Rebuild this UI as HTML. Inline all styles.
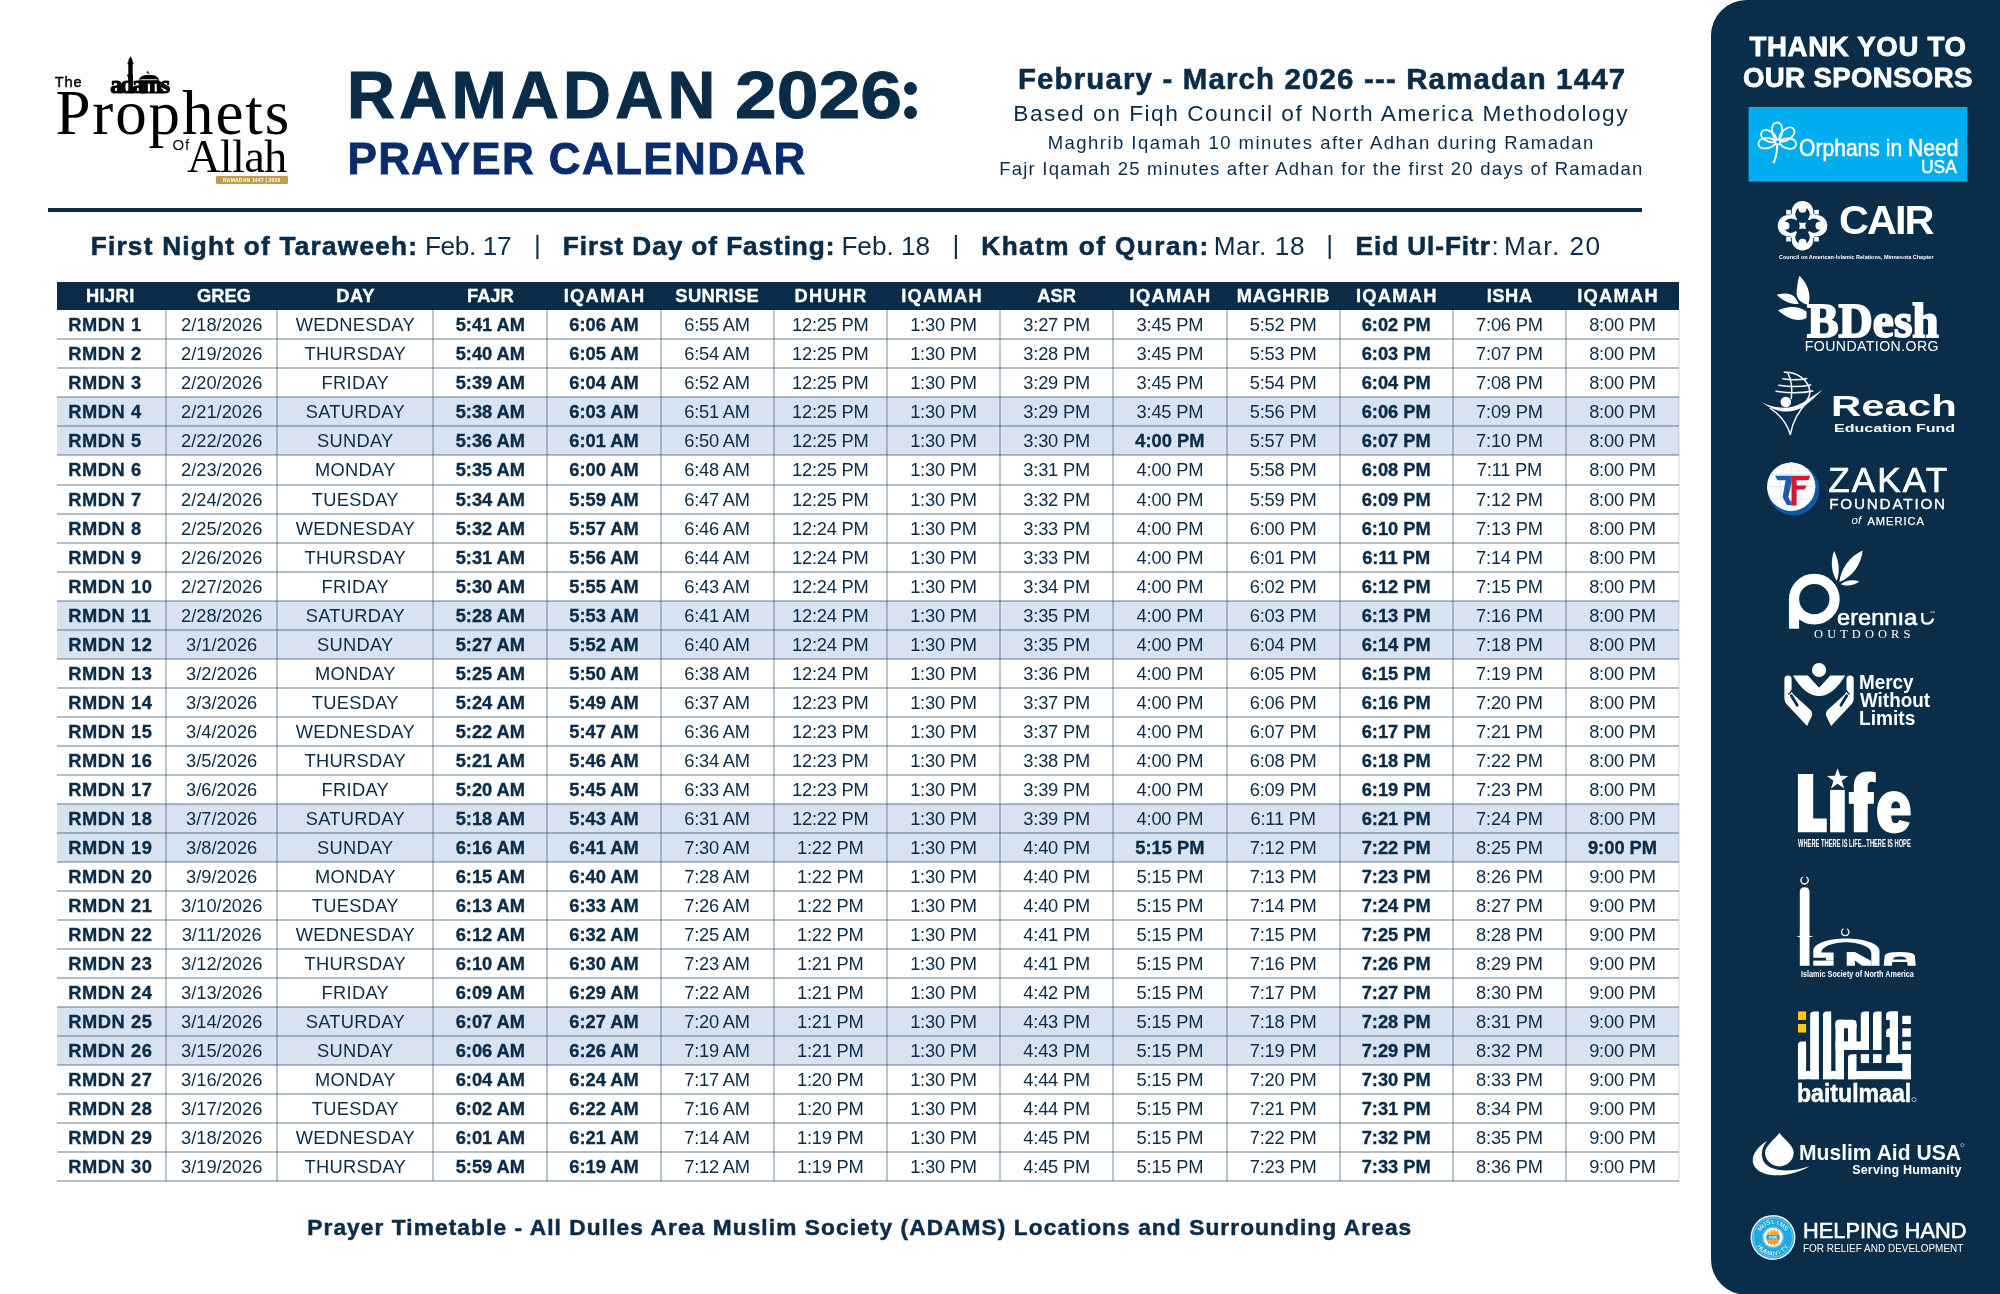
<!DOCTYPE html>
<html lang="en"><head><meta charset="utf-8"><title>Ramadan 2026 Prayer Calendar</title>
<style>
*{margin:0;padding:0;box-sizing:border-box;}
html,body{width:2000px;height:1294px;background:#fff;overflow:hidden;}
body{position:relative;font-family:"Liberation Sans",sans-serif;color:#0a2c49;}
.abs{position:absolute;white-space:nowrap;}
.hr{left:48px;top:208px;width:1594px;height:4px;background:#0a2c49;}
/* table */
.tbl{position:absolute;left:57px;top:282.2px;width:1622px;height:899px;}
.th{position:absolute;left:0;top:0;width:1622px;height:28.2px;background:#0a2c49;}
.th span{position:absolute;top:0;height:28px;line-height:28px;text-align:center;color:#fff;font-weight:bold;font-size:18.3px;-webkit-text-stroke:.35px #fff;}
.row{position:absolute;left:0;width:1622px;height:29.02px;}
.row.hl{background:#d9e2f0;}
.row span{position:absolute;top:0;height:29px;line-height:29px;text-align:center;font-size:18.3px;white-space:nowrap;}
.row span.b{font-weight:bold;-webkit-text-stroke:.35px #0a2c49;}
.row span.h{text-align:left;font-weight:bold;letter-spacing:.55px;-webkit-text-stroke:.35px #0a2c49;padding-left:11.3px;}
.vl{position:absolute;top:28.2px;width:2px;height:870.6px;background:rgba(30,65,95,.30);}
.hl2{position:absolute;left:0;width:1622px;height:2px;background:rgba(30,65,95,.34);}
/* sidebar */
.side{position:absolute;left:1711px;top:-0.5px;width:289px;height:1295px;background:#0a2d4a;border-radius:35.5px 0 0 35.5px;}
#wrap{position:absolute;left:0;top:0;width:2000px;height:1294px;will-change:transform;}
</style></head>
<body>
<div id="wrap">
<div class="abs" style="left:347.05px;top:61.78px;font-size:66.3px;line-height:66.3px;letter-spacing:4.298px;font-weight:bold;-webkit-text-stroke:1.1px currentColor;">RAMADAN</div>
<div class="abs" style="left:735.10px;top:61.78px;font-size:66.3px;line-height:66.3px;transform:scaleX(1.1313);transform-origin:0 0;font-weight:bold;-webkit-text-stroke:1px currentColor;">2026</div>
<div class="abs" style="left:347.40px;top:137.25px;font-size:44px;line-height:44px;letter-spacing:1.396px;font-weight:bold;color:#0a2c6a;-webkit-text-stroke:0.8px #0a2c6a;">PRAYER CALENDAR</div>
<div class="abs" style="left:1017.90px;top:64.31px;font-size:29.4px;line-height:29.4px;letter-spacing:1.178px;font-weight:bold;-webkit-text-stroke:0.6px currentColor;">February - March 2026 --- Ramadan 1447</div>
<div class="abs" style="left:1013.30px;top:102.48px;font-size:22.7px;line-height:22.7px;letter-spacing:1.521px;">Based on Fiqh Council of North America Methodology</div>
<div class="abs" style="left:1047.70px;top:133.94px;font-size:18.5px;line-height:18.5px;letter-spacing:1.462px;">Maghrib Iqamah 10 minutes after Adhan during Ramadan</div>
<div class="abs" style="left:999.20px;top:159.94px;font-size:18.5px;line-height:18.5px;letter-spacing:1.221px;">Fajr Iqamah 25 minutes after Adhan for the first 20 days of Ramadan</div>
<div class="abs" style="left:90.70px;top:232.82px;font-size:26.2px;line-height:26.2px;letter-spacing:1.241px;font-weight:bold;-webkit-text-stroke:0.6px currentColor;">First Night of Taraweeh:</div>
<div class="abs" style="left:425.00px;top:232.82px;font-size:26.2px;line-height:26.2px;letter-spacing:-0.373px;">Feb. 17</div>
<div class="abs" style="left:534.00px;top:231.82px;font-size:26.2px;line-height:26.2px;letter-spacing:0.000px;">|</div>
<div class="abs" style="left:562.80px;top:232.82px;font-size:26.2px;line-height:26.2px;letter-spacing:0.923px;font-weight:bold;-webkit-text-stroke:0.6px currentColor;">First Day of Fasting:</div>
<div class="abs" style="left:841.40px;top:232.82px;font-size:26.2px;line-height:26.2px;letter-spacing:-0.023px;">Feb. 18</div>
<div class="abs" style="left:952.60px;top:231.82px;font-size:26.2px;line-height:26.2px;letter-spacing:0.000px;">|</div>
<div class="abs" style="left:981.30px;top:232.82px;font-size:26.2px;line-height:26.2px;letter-spacing:1.445px;font-weight:bold;-webkit-text-stroke:0.6px currentColor;">Khatm of Quran:</div>
<div class="abs" style="left:1213.70px;top:232.82px;font-size:26.2px;line-height:26.2px;letter-spacing:0.572px;">Mar. 18</div>
<div class="abs" style="left:1326.30px;top:231.82px;font-size:26.2px;line-height:26.2px;letter-spacing:0.000px;">|</div>
<div class="abs" style="left:1355.60px;top:232.82px;font-size:26.2px;line-height:26.2px;letter-spacing:0.918px;font-weight:bold;-webkit-text-stroke:0.6px currentColor;">Eid Ul-Fitr</div>
<div class="abs" style="left:1491.50px;top:232.82px;font-size:26.2px;line-height:26.2px;letter-spacing:0.000px;">:</div>
<div class="abs" style="left:1504.00px;top:232.82px;font-size:26.2px;line-height:26.2px;letter-spacing:1.455px;">Mar. 20</div>
<div class="abs" style="left:307.25px;top:1215.98px;font-size:22.7px;line-height:22.7px;letter-spacing:1.089px;font-weight:bold;-webkit-text-stroke:0.5px currentColor;">Prayer Timetable - All Dulles Area Muslim Society (ADAMS) Locations and Surrounding Areas</div>
<div class="abs hr"></div>
<div class="abs" style="left:903.8px;top:81.8px;width:13px;height:13px;border-radius:50%;background:#0a2c49"></div>
<div class="abs" style="left:903.8px;top:105.7px;width:13px;height:13px;border-radius:50%;background:#0a2c49"></div>
<div class="abs" style="left:54.83px;top:74.54px;font-size:14.6px;line-height:14.6px;letter-spacing:0.760px;color:#000;-webkit-text-stroke:0.45px #000;">The</div>
<div class="abs" style="left:55.40px;top:82.14px;font-size:63px;line-height:63px;letter-spacing:1.902px;color:#000;font-family:'Liberation Serif',serif;">Prophets</div>
<div class="abs" style="left:172.50px;top:136.90px;font-size:15px;line-height:15px;letter-spacing:0.833px;color:#000;">Of</div>
<div class="abs" style="left:187.00px;top:133.64px;font-size:46.4px;line-height:46.4px;letter-spacing:-0.717px;color:#000;font-family:'Liberation Serif',serif;">Allah</div>
<div class="abs" style="left:110.20px;top:72.88px;font-size:24.5px;line-height:24.5px;letter-spacing:-2.084px;font-weight:bold;color:#000;-webkit-text-stroke:1.2px #000;font-family:'Liberation Serif',serif;">adams</div>
<svg class="abs" style="left:100px;top:50px" width="80" height="40" viewBox="100 50 80 40">
<path d="M130.5 56.2 L132.6 60 L132.6 62.2 L133.4 62.2 L133.4 64.2 L132.7 64.2 L132.7 83 L128.3 83 L128.3 64.2 L127.6 64.2 L127.6 62.2 L128.4 62.2 L128.4 60 Z" fill="#000"/>
<path d="M139.2 83.5 L139.2 80.5 C139.2 76.8 142 74.9 149 74.9 C156 74.9 158.8 76.8 158.8 80.5 L158.8 83.5 Z" fill="#000"/>
<rect x="140.6" y="79.3" width="16.8" height="0.9" fill="#fff"/>
<circle cx="148.4" cy="72.2" r="1.5" fill="#000"/><circle cx="149.3" cy="71.7" r="1.2" fill="#fff"/>
</svg>
<div class="abs" style="left:215.5px;top:175.7px;width:72.6px;height:8.6px;background:#c49a4e;border-radius:1.3px;"></div>
<div class="abs" style="left:215.5px;top:175.7px;width:72.6px;height:8.6px;line-height:8.6px;text-align:center;color:#fff;font-size:5px;font-weight:bold;letter-spacing:.2px;">RAMADAN 1447 | 2026</div>

<div class="tbl">
<div class="th">
<span style="left:-1.2px;width:109px;letter-spacing:0.4px">HIJRI</span>
<span style="left:111.4px;width:111.3px;letter-spacing:0px">GREG</span>
<span style="left:220.65px;width:156px;letter-spacing:0.7px">DAY</span>
<span style="left:376.3px;width:114.1px;letter-spacing:0px">FAJR</span>
<span style="left:491.05px;width:113.1px;letter-spacing:1.3px">IQAMAH</span>
<span style="left:603.67px;width:113.1px;letter-spacing:0.35px">SUNRISE</span>
<span style="left:717.3px;width:113.4px;letter-spacing:1.4px">DHUHR</span>
<span style="left:828.65px;width:113px;letter-spacing:1.3px">IQAMAH</span>
<span style="left:943px;width:113.3px;letter-spacing:0px">ASR</span>
<span style="left:1056.95px;width:113.2px;letter-spacing:1.3px">IQAMAH</span>
<span style="left:1169.95px;width:113.2px;letter-spacing:0.9px">MAGHRIB</span>
<span style="left:1283.35px;width:113.1px;letter-spacing:1.3px">IQAMAH</span>
<span style="left:1396.1px;width:113.2px;letter-spacing:0.6px">ISHA</span>
<span style="left:1504.65px;width:113px;letter-spacing:1.3px">IQAMAH</span>
</div>
<div class="row" style="top:28.2px">
<span class="h" style="left:0px;width:109px">RMDN 1</span>
<span style="left:109px;width:111.3px">2/18/2026</span>
<span style="left:220.3px;width:156px;letter-spacing:.3px">WEDNESDAY</span>
<span class="b" style="left:376.3px;width:114.1px">5:41 AM</span>
<span class="b" style="left:490.4px;width:113.1px">6:06 AM</span>
<span style="left:603.5px;width:113.1px;letter-spacing:-.2px">6:55 AM</span>
<span style="left:716.6px;width:113.4px;letter-spacing:-.2px">12:25 PM</span>
<span style="left:830px;width:113px;letter-spacing:-.2px">1:30 PM</span>
<span style="left:943px;width:113.3px;letter-spacing:-.2px">3:27 PM</span>
<span style="left:1056.3px;width:113.2px;letter-spacing:-.2px">3:45 PM</span>
<span style="left:1169.5px;width:113.2px;letter-spacing:-.2px">5:52 PM</span>
<span class="b" style="left:1282.7px;width:113.1px">6:02 PM</span>
<span style="left:1395.8px;width:113.2px;letter-spacing:-.2px">7:06 PM</span>
<span style="left:1509px;width:113px;letter-spacing:-.2px">8:00 PM</span>
</div>
<div class="row" style="top:57.22px">
<span class="h" style="left:0px;width:109px">RMDN 2</span>
<span style="left:109px;width:111.3px">2/19/2026</span>
<span style="left:220.3px;width:156px;letter-spacing:.3px">THURSDAY</span>
<span class="b" style="left:376.3px;width:114.1px">5:40 AM</span>
<span class="b" style="left:490.4px;width:113.1px">6:05 AM</span>
<span style="left:603.5px;width:113.1px;letter-spacing:-.2px">6:54 AM</span>
<span style="left:716.6px;width:113.4px;letter-spacing:-.2px">12:25 PM</span>
<span style="left:830px;width:113px;letter-spacing:-.2px">1:30 PM</span>
<span style="left:943px;width:113.3px;letter-spacing:-.2px">3:28 PM</span>
<span style="left:1056.3px;width:113.2px;letter-spacing:-.2px">3:45 PM</span>
<span style="left:1169.5px;width:113.2px;letter-spacing:-.2px">5:53 PM</span>
<span class="b" style="left:1282.7px;width:113.1px">6:03 PM</span>
<span style="left:1395.8px;width:113.2px;letter-spacing:-.2px">7:07 PM</span>
<span style="left:1509px;width:113px;letter-spacing:-.2px">8:00 PM</span>
</div>
<div class="row" style="top:86.24px">
<span class="h" style="left:0px;width:109px">RMDN 3</span>
<span style="left:109px;width:111.3px">2/20/2026</span>
<span style="left:220.3px;width:156px;letter-spacing:.3px">FRIDAY</span>
<span class="b" style="left:376.3px;width:114.1px">5:39 AM</span>
<span class="b" style="left:490.4px;width:113.1px">6:04 AM</span>
<span style="left:603.5px;width:113.1px;letter-spacing:-.2px">6:52 AM</span>
<span style="left:716.6px;width:113.4px;letter-spacing:-.2px">12:25 PM</span>
<span style="left:830px;width:113px;letter-spacing:-.2px">1:30 PM</span>
<span style="left:943px;width:113.3px;letter-spacing:-.2px">3:29 PM</span>
<span style="left:1056.3px;width:113.2px;letter-spacing:-.2px">3:45 PM</span>
<span style="left:1169.5px;width:113.2px;letter-spacing:-.2px">5:54 PM</span>
<span class="b" style="left:1282.7px;width:113.1px">6:04 PM</span>
<span style="left:1395.8px;width:113.2px;letter-spacing:-.2px">7:08 PM</span>
<span style="left:1509px;width:113px;letter-spacing:-.2px">8:00 PM</span>
</div>
<div class="row hl" style="top:115.26px">
<span class="h" style="left:0px;width:109px">RMDN 4</span>
<span style="left:109px;width:111.3px">2/21/2026</span>
<span style="left:220.3px;width:156px;letter-spacing:.3px">SATURDAY</span>
<span class="b" style="left:376.3px;width:114.1px">5:38 AM</span>
<span class="b" style="left:490.4px;width:113.1px">6:03 AM</span>
<span style="left:603.5px;width:113.1px;letter-spacing:-.2px">6:51 AM</span>
<span style="left:716.6px;width:113.4px;letter-spacing:-.2px">12:25 PM</span>
<span style="left:830px;width:113px;letter-spacing:-.2px">1:30 PM</span>
<span style="left:943px;width:113.3px;letter-spacing:-.2px">3:29 PM</span>
<span style="left:1056.3px;width:113.2px;letter-spacing:-.2px">3:45 PM</span>
<span style="left:1169.5px;width:113.2px;letter-spacing:-.2px">5:56 PM</span>
<span class="b" style="left:1282.7px;width:113.1px">6:06 PM</span>
<span style="left:1395.8px;width:113.2px;letter-spacing:-.2px">7:09 PM</span>
<span style="left:1509px;width:113px;letter-spacing:-.2px">8:00 PM</span>
</div>
<div class="row hl" style="top:144.28px">
<span class="h" style="left:0px;width:109px">RMDN 5</span>
<span style="left:109px;width:111.3px">2/22/2026</span>
<span style="left:220.3px;width:156px;letter-spacing:.3px">SUNDAY</span>
<span class="b" style="left:376.3px;width:114.1px">5:36 AM</span>
<span class="b" style="left:490.4px;width:113.1px">6:01 AM</span>
<span style="left:603.5px;width:113.1px;letter-spacing:-.2px">6:50 AM</span>
<span style="left:716.6px;width:113.4px;letter-spacing:-.2px">12:25 PM</span>
<span style="left:830px;width:113px;letter-spacing:-.2px">1:30 PM</span>
<span style="left:943px;width:113.3px;letter-spacing:-.2px">3:30 PM</span>
<span class="b" style="left:1056.3px;width:113.2px">4:00 PM</span>
<span style="left:1169.5px;width:113.2px;letter-spacing:-.2px">5:57 PM</span>
<span class="b" style="left:1282.7px;width:113.1px">6:07 PM</span>
<span style="left:1395.8px;width:113.2px;letter-spacing:-.2px">7:10 PM</span>
<span style="left:1509px;width:113px;letter-spacing:-.2px">8:00 PM</span>
</div>
<div class="row" style="top:173.3px">
<span class="h" style="left:0px;width:109px">RMDN 6</span>
<span style="left:109px;width:111.3px">2/23/2026</span>
<span style="left:220.3px;width:156px;letter-spacing:.3px">MONDAY</span>
<span class="b" style="left:376.3px;width:114.1px">5:35 AM</span>
<span class="b" style="left:490.4px;width:113.1px">6:00 AM</span>
<span style="left:603.5px;width:113.1px;letter-spacing:-.2px">6:48 AM</span>
<span style="left:716.6px;width:113.4px;letter-spacing:-.2px">12:25 PM</span>
<span style="left:830px;width:113px;letter-spacing:-.2px">1:30 PM</span>
<span style="left:943px;width:113.3px;letter-spacing:-.2px">3:31 PM</span>
<span style="left:1056.3px;width:113.2px;letter-spacing:-.2px">4:00 PM</span>
<span style="left:1169.5px;width:113.2px;letter-spacing:-.2px">5:58 PM</span>
<span class="b" style="left:1282.7px;width:113.1px">6:08 PM</span>
<span style="left:1395.8px;width:113.2px;letter-spacing:-.2px">7:11 PM</span>
<span style="left:1509px;width:113px;letter-spacing:-.2px">8:00 PM</span>
</div>
<div class="row" style="top:202.32px">
<span class="h" style="left:0px;width:109px">RMDN 7</span>
<span style="left:109px;width:111.3px">2/24/2026</span>
<span style="left:220.3px;width:156px;letter-spacing:.3px">TUESDAY</span>
<span class="b" style="left:376.3px;width:114.1px">5:34 AM</span>
<span class="b" style="left:490.4px;width:113.1px">5:59 AM</span>
<span style="left:603.5px;width:113.1px;letter-spacing:-.2px">6:47 AM</span>
<span style="left:716.6px;width:113.4px;letter-spacing:-.2px">12:25 PM</span>
<span style="left:830px;width:113px;letter-spacing:-.2px">1:30 PM</span>
<span style="left:943px;width:113.3px;letter-spacing:-.2px">3:32 PM</span>
<span style="left:1056.3px;width:113.2px;letter-spacing:-.2px">4:00 PM</span>
<span style="left:1169.5px;width:113.2px;letter-spacing:-.2px">5:59 PM</span>
<span class="b" style="left:1282.7px;width:113.1px">6:09 PM</span>
<span style="left:1395.8px;width:113.2px;letter-spacing:-.2px">7:12 PM</span>
<span style="left:1509px;width:113px;letter-spacing:-.2px">8:00 PM</span>
</div>
<div class="row" style="top:231.34px">
<span class="h" style="left:0px;width:109px">RMDN 8</span>
<span style="left:109px;width:111.3px">2/25/2026</span>
<span style="left:220.3px;width:156px;letter-spacing:.3px">WEDNESDAY</span>
<span class="b" style="left:376.3px;width:114.1px">5:32 AM</span>
<span class="b" style="left:490.4px;width:113.1px">5:57 AM</span>
<span style="left:603.5px;width:113.1px;letter-spacing:-.2px">6:46 AM</span>
<span style="left:716.6px;width:113.4px;letter-spacing:-.2px">12:24 PM</span>
<span style="left:830px;width:113px;letter-spacing:-.2px">1:30 PM</span>
<span style="left:943px;width:113.3px;letter-spacing:-.2px">3:33 PM</span>
<span style="left:1056.3px;width:113.2px;letter-spacing:-.2px">4:00 PM</span>
<span style="left:1169.5px;width:113.2px;letter-spacing:-.2px">6:00 PM</span>
<span class="b" style="left:1282.7px;width:113.1px">6:10 PM</span>
<span style="left:1395.8px;width:113.2px;letter-spacing:-.2px">7:13 PM</span>
<span style="left:1509px;width:113px;letter-spacing:-.2px">8:00 PM</span>
</div>
<div class="row" style="top:260.36px">
<span class="h" style="left:0px;width:109px">RMDN 9</span>
<span style="left:109px;width:111.3px">2/26/2026</span>
<span style="left:220.3px;width:156px;letter-spacing:.3px">THURSDAY</span>
<span class="b" style="left:376.3px;width:114.1px">5:31 AM</span>
<span class="b" style="left:490.4px;width:113.1px">5:56 AM</span>
<span style="left:603.5px;width:113.1px;letter-spacing:-.2px">6:44 AM</span>
<span style="left:716.6px;width:113.4px;letter-spacing:-.2px">12:24 PM</span>
<span style="left:830px;width:113px;letter-spacing:-.2px">1:30 PM</span>
<span style="left:943px;width:113.3px;letter-spacing:-.2px">3:33 PM</span>
<span style="left:1056.3px;width:113.2px;letter-spacing:-.2px">4:00 PM</span>
<span style="left:1169.5px;width:113.2px;letter-spacing:-.2px">6:01 PM</span>
<span class="b" style="left:1282.7px;width:113.1px">6:11 PM</span>
<span style="left:1395.8px;width:113.2px;letter-spacing:-.2px">7:14 PM</span>
<span style="left:1509px;width:113px;letter-spacing:-.2px">8:00 PM</span>
</div>
<div class="row" style="top:289.38px">
<span class="h" style="left:0px;width:109px">RMDN 10</span>
<span style="left:109px;width:111.3px">2/27/2026</span>
<span style="left:220.3px;width:156px;letter-spacing:.3px">FRIDAY</span>
<span class="b" style="left:376.3px;width:114.1px">5:30 AM</span>
<span class="b" style="left:490.4px;width:113.1px">5:55 AM</span>
<span style="left:603.5px;width:113.1px;letter-spacing:-.2px">6:43 AM</span>
<span style="left:716.6px;width:113.4px;letter-spacing:-.2px">12:24 PM</span>
<span style="left:830px;width:113px;letter-spacing:-.2px">1:30 PM</span>
<span style="left:943px;width:113.3px;letter-spacing:-.2px">3:34 PM</span>
<span style="left:1056.3px;width:113.2px;letter-spacing:-.2px">4:00 PM</span>
<span style="left:1169.5px;width:113.2px;letter-spacing:-.2px">6:02 PM</span>
<span class="b" style="left:1282.7px;width:113.1px">6:12 PM</span>
<span style="left:1395.8px;width:113.2px;letter-spacing:-.2px">7:15 PM</span>
<span style="left:1509px;width:113px;letter-spacing:-.2px">8:00 PM</span>
</div>
<div class="row hl" style="top:318.4px">
<span class="h" style="left:0px;width:109px">RMDN 11</span>
<span style="left:109px;width:111.3px">2/28/2026</span>
<span style="left:220.3px;width:156px;letter-spacing:.3px">SATURDAY</span>
<span class="b" style="left:376.3px;width:114.1px">5:28 AM</span>
<span class="b" style="left:490.4px;width:113.1px">5:53 AM</span>
<span style="left:603.5px;width:113.1px;letter-spacing:-.2px">6:41 AM</span>
<span style="left:716.6px;width:113.4px;letter-spacing:-.2px">12:24 PM</span>
<span style="left:830px;width:113px;letter-spacing:-.2px">1:30 PM</span>
<span style="left:943px;width:113.3px;letter-spacing:-.2px">3:35 PM</span>
<span style="left:1056.3px;width:113.2px;letter-spacing:-.2px">4:00 PM</span>
<span style="left:1169.5px;width:113.2px;letter-spacing:-.2px">6:03 PM</span>
<span class="b" style="left:1282.7px;width:113.1px">6:13 PM</span>
<span style="left:1395.8px;width:113.2px;letter-spacing:-.2px">7:16 PM</span>
<span style="left:1509px;width:113px;letter-spacing:-.2px">8:00 PM</span>
</div>
<div class="row hl" style="top:347.42px">
<span class="h" style="left:0px;width:109px">RMDN 12</span>
<span style="left:109px;width:111.3px">3/1/2026</span>
<span style="left:220.3px;width:156px;letter-spacing:.3px">SUNDAY</span>
<span class="b" style="left:376.3px;width:114.1px">5:27 AM</span>
<span class="b" style="left:490.4px;width:113.1px">5:52 AM</span>
<span style="left:603.5px;width:113.1px;letter-spacing:-.2px">6:40 AM</span>
<span style="left:716.6px;width:113.4px;letter-spacing:-.2px">12:24 PM</span>
<span style="left:830px;width:113px;letter-spacing:-.2px">1:30 PM</span>
<span style="left:943px;width:113.3px;letter-spacing:-.2px">3:35 PM</span>
<span style="left:1056.3px;width:113.2px;letter-spacing:-.2px">4:00 PM</span>
<span style="left:1169.5px;width:113.2px;letter-spacing:-.2px">6:04 PM</span>
<span class="b" style="left:1282.7px;width:113.1px">6:14 PM</span>
<span style="left:1395.8px;width:113.2px;letter-spacing:-.2px">7:18 PM</span>
<span style="left:1509px;width:113px;letter-spacing:-.2px">8:00 PM</span>
</div>
<div class="row" style="top:376.44px">
<span class="h" style="left:0px;width:109px">RMDN 13</span>
<span style="left:109px;width:111.3px">3/2/2026</span>
<span style="left:220.3px;width:156px;letter-spacing:.3px">MONDAY</span>
<span class="b" style="left:376.3px;width:114.1px">5:25 AM</span>
<span class="b" style="left:490.4px;width:113.1px">5:50 AM</span>
<span style="left:603.5px;width:113.1px;letter-spacing:-.2px">6:38 AM</span>
<span style="left:716.6px;width:113.4px;letter-spacing:-.2px">12:24 PM</span>
<span style="left:830px;width:113px;letter-spacing:-.2px">1:30 PM</span>
<span style="left:943px;width:113.3px;letter-spacing:-.2px">3:36 PM</span>
<span style="left:1056.3px;width:113.2px;letter-spacing:-.2px">4:00 PM</span>
<span style="left:1169.5px;width:113.2px;letter-spacing:-.2px">6:05 PM</span>
<span class="b" style="left:1282.7px;width:113.1px">6:15 PM</span>
<span style="left:1395.8px;width:113.2px;letter-spacing:-.2px">7:19 PM</span>
<span style="left:1509px;width:113px;letter-spacing:-.2px">8:00 PM</span>
</div>
<div class="row" style="top:405.46px">
<span class="h" style="left:0px;width:109px">RMDN 14</span>
<span style="left:109px;width:111.3px">3/3/2026</span>
<span style="left:220.3px;width:156px;letter-spacing:.3px">TUESDAY</span>
<span class="b" style="left:376.3px;width:114.1px">5:24 AM</span>
<span class="b" style="left:490.4px;width:113.1px">5:49 AM</span>
<span style="left:603.5px;width:113.1px;letter-spacing:-.2px">6:37 AM</span>
<span style="left:716.6px;width:113.4px;letter-spacing:-.2px">12:23 PM</span>
<span style="left:830px;width:113px;letter-spacing:-.2px">1:30 PM</span>
<span style="left:943px;width:113.3px;letter-spacing:-.2px">3:37 PM</span>
<span style="left:1056.3px;width:113.2px;letter-spacing:-.2px">4:00 PM</span>
<span style="left:1169.5px;width:113.2px;letter-spacing:-.2px">6:06 PM</span>
<span class="b" style="left:1282.7px;width:113.1px">6:16 PM</span>
<span style="left:1395.8px;width:113.2px;letter-spacing:-.2px">7:20 PM</span>
<span style="left:1509px;width:113px;letter-spacing:-.2px">8:00 PM</span>
</div>
<div class="row" style="top:434.48px">
<span class="h" style="left:0px;width:109px">RMDN 15</span>
<span style="left:109px;width:111.3px">3/4/2026</span>
<span style="left:220.3px;width:156px;letter-spacing:.3px">WEDNESDAY</span>
<span class="b" style="left:376.3px;width:114.1px">5:22 AM</span>
<span class="b" style="left:490.4px;width:113.1px">5:47 AM</span>
<span style="left:603.5px;width:113.1px;letter-spacing:-.2px">6:36 AM</span>
<span style="left:716.6px;width:113.4px;letter-spacing:-.2px">12:23 PM</span>
<span style="left:830px;width:113px;letter-spacing:-.2px">1:30 PM</span>
<span style="left:943px;width:113.3px;letter-spacing:-.2px">3:37 PM</span>
<span style="left:1056.3px;width:113.2px;letter-spacing:-.2px">4:00 PM</span>
<span style="left:1169.5px;width:113.2px;letter-spacing:-.2px">6:07 PM</span>
<span class="b" style="left:1282.7px;width:113.1px">6:17 PM</span>
<span style="left:1395.8px;width:113.2px;letter-spacing:-.2px">7:21 PM</span>
<span style="left:1509px;width:113px;letter-spacing:-.2px">8:00 PM</span>
</div>
<div class="row" style="top:463.5px">
<span class="h" style="left:0px;width:109px">RMDN 16</span>
<span style="left:109px;width:111.3px">3/5/2026</span>
<span style="left:220.3px;width:156px;letter-spacing:.3px">THURSDAY</span>
<span class="b" style="left:376.3px;width:114.1px">5:21 AM</span>
<span class="b" style="left:490.4px;width:113.1px">5:46 AM</span>
<span style="left:603.5px;width:113.1px;letter-spacing:-.2px">6:34 AM</span>
<span style="left:716.6px;width:113.4px;letter-spacing:-.2px">12:23 PM</span>
<span style="left:830px;width:113px;letter-spacing:-.2px">1:30 PM</span>
<span style="left:943px;width:113.3px;letter-spacing:-.2px">3:38 PM</span>
<span style="left:1056.3px;width:113.2px;letter-spacing:-.2px">4:00 PM</span>
<span style="left:1169.5px;width:113.2px;letter-spacing:-.2px">6:08 PM</span>
<span class="b" style="left:1282.7px;width:113.1px">6:18 PM</span>
<span style="left:1395.8px;width:113.2px;letter-spacing:-.2px">7:22 PM</span>
<span style="left:1509px;width:113px;letter-spacing:-.2px">8:00 PM</span>
</div>
<div class="row" style="top:492.52px">
<span class="h" style="left:0px;width:109px">RMDN 17</span>
<span style="left:109px;width:111.3px">3/6/2026</span>
<span style="left:220.3px;width:156px;letter-spacing:.3px">FRIDAY</span>
<span class="b" style="left:376.3px;width:114.1px">5:20 AM</span>
<span class="b" style="left:490.4px;width:113.1px">5:45 AM</span>
<span style="left:603.5px;width:113.1px;letter-spacing:-.2px">6:33 AM</span>
<span style="left:716.6px;width:113.4px;letter-spacing:-.2px">12:23 PM</span>
<span style="left:830px;width:113px;letter-spacing:-.2px">1:30 PM</span>
<span style="left:943px;width:113.3px;letter-spacing:-.2px">3:39 PM</span>
<span style="left:1056.3px;width:113.2px;letter-spacing:-.2px">4:00 PM</span>
<span style="left:1169.5px;width:113.2px;letter-spacing:-.2px">6:09 PM</span>
<span class="b" style="left:1282.7px;width:113.1px">6:19 PM</span>
<span style="left:1395.8px;width:113.2px;letter-spacing:-.2px">7:23 PM</span>
<span style="left:1509px;width:113px;letter-spacing:-.2px">8:00 PM</span>
</div>
<div class="row hl" style="top:521.54px">
<span class="h" style="left:0px;width:109px">RMDN 18</span>
<span style="left:109px;width:111.3px">3/7/2026</span>
<span style="left:220.3px;width:156px;letter-spacing:.3px">SATURDAY</span>
<span class="b" style="left:376.3px;width:114.1px">5:18 AM</span>
<span class="b" style="left:490.4px;width:113.1px">5:43 AM</span>
<span style="left:603.5px;width:113.1px;letter-spacing:-.2px">6:31 AM</span>
<span style="left:716.6px;width:113.4px;letter-spacing:-.2px">12:22 PM</span>
<span style="left:830px;width:113px;letter-spacing:-.2px">1:30 PM</span>
<span style="left:943px;width:113.3px;letter-spacing:-.2px">3:39 PM</span>
<span style="left:1056.3px;width:113.2px;letter-spacing:-.2px">4:00 PM</span>
<span style="left:1169.5px;width:113.2px;letter-spacing:-.2px">6:11 PM</span>
<span class="b" style="left:1282.7px;width:113.1px">6:21 PM</span>
<span style="left:1395.8px;width:113.2px;letter-spacing:-.2px">7:24 PM</span>
<span style="left:1509px;width:113px;letter-spacing:-.2px">8:00 PM</span>
</div>
<div class="row hl" style="top:550.56px">
<span class="h" style="left:0px;width:109px">RMDN 19</span>
<span style="left:109px;width:111.3px">3/8/2026</span>
<span style="left:220.3px;width:156px;letter-spacing:.3px">SUNDAY</span>
<span class="b" style="left:376.3px;width:114.1px">6:16 AM</span>
<span class="b" style="left:490.4px;width:113.1px">6:41 AM</span>
<span style="left:603.5px;width:113.1px;letter-spacing:-.2px">7:30 AM</span>
<span style="left:716.6px;width:113.4px;letter-spacing:-.2px">1:22 PM</span>
<span style="left:830px;width:113px;letter-spacing:-.2px">1:30 PM</span>
<span style="left:943px;width:113.3px;letter-spacing:-.2px">4:40 PM</span>
<span class="b" style="left:1056.3px;width:113.2px">5:15 PM</span>
<span style="left:1169.5px;width:113.2px;letter-spacing:-.2px">7:12 PM</span>
<span class="b" style="left:1282.7px;width:113.1px">7:22 PM</span>
<span style="left:1395.8px;width:113.2px;letter-spacing:-.2px">8:25 PM</span>
<span class="b" style="left:1509px;width:113px">9:00 PM</span>
</div>
<div class="row" style="top:579.58px">
<span class="h" style="left:0px;width:109px">RMDN 20</span>
<span style="left:109px;width:111.3px">3/9/2026</span>
<span style="left:220.3px;width:156px;letter-spacing:.3px">MONDAY</span>
<span class="b" style="left:376.3px;width:114.1px">6:15 AM</span>
<span class="b" style="left:490.4px;width:113.1px">6:40 AM</span>
<span style="left:603.5px;width:113.1px;letter-spacing:-.2px">7:28 AM</span>
<span style="left:716.6px;width:113.4px;letter-spacing:-.2px">1:22 PM</span>
<span style="left:830px;width:113px;letter-spacing:-.2px">1:30 PM</span>
<span style="left:943px;width:113.3px;letter-spacing:-.2px">4:40 PM</span>
<span style="left:1056.3px;width:113.2px;letter-spacing:-.2px">5:15 PM</span>
<span style="left:1169.5px;width:113.2px;letter-spacing:-.2px">7:13 PM</span>
<span class="b" style="left:1282.7px;width:113.1px">7:23 PM</span>
<span style="left:1395.8px;width:113.2px;letter-spacing:-.2px">8:26 PM</span>
<span style="left:1509px;width:113px;letter-spacing:-.2px">9:00 PM</span>
</div>
<div class="row" style="top:608.6px">
<span class="h" style="left:0px;width:109px">RMDN 21</span>
<span style="left:109px;width:111.3px">3/10/2026</span>
<span style="left:220.3px;width:156px;letter-spacing:.3px">TUESDAY</span>
<span class="b" style="left:376.3px;width:114.1px">6:13 AM</span>
<span class="b" style="left:490.4px;width:113.1px">6:33 AM</span>
<span style="left:603.5px;width:113.1px;letter-spacing:-.2px">7:26 AM</span>
<span style="left:716.6px;width:113.4px;letter-spacing:-.2px">1:22 PM</span>
<span style="left:830px;width:113px;letter-spacing:-.2px">1:30 PM</span>
<span style="left:943px;width:113.3px;letter-spacing:-.2px">4:40 PM</span>
<span style="left:1056.3px;width:113.2px;letter-spacing:-.2px">5:15 PM</span>
<span style="left:1169.5px;width:113.2px;letter-spacing:-.2px">7:14 PM</span>
<span class="b" style="left:1282.7px;width:113.1px">7:24 PM</span>
<span style="left:1395.8px;width:113.2px;letter-spacing:-.2px">8:27 PM</span>
<span style="left:1509px;width:113px;letter-spacing:-.2px">9:00 PM</span>
</div>
<div class="row" style="top:637.62px">
<span class="h" style="left:0px;width:109px">RMDN 22</span>
<span style="left:109px;width:111.3px">3/11/2026</span>
<span style="left:220.3px;width:156px;letter-spacing:.3px">WEDNESDAY</span>
<span class="b" style="left:376.3px;width:114.1px">6:12 AM</span>
<span class="b" style="left:490.4px;width:113.1px">6:32 AM</span>
<span style="left:603.5px;width:113.1px;letter-spacing:-.2px">7:25 AM</span>
<span style="left:716.6px;width:113.4px;letter-spacing:-.2px">1:22 PM</span>
<span style="left:830px;width:113px;letter-spacing:-.2px">1:30 PM</span>
<span style="left:943px;width:113.3px;letter-spacing:-.2px">4:41 PM</span>
<span style="left:1056.3px;width:113.2px;letter-spacing:-.2px">5:15 PM</span>
<span style="left:1169.5px;width:113.2px;letter-spacing:-.2px">7:15 PM</span>
<span class="b" style="left:1282.7px;width:113.1px">7:25 PM</span>
<span style="left:1395.8px;width:113.2px;letter-spacing:-.2px">8:28 PM</span>
<span style="left:1509px;width:113px;letter-spacing:-.2px">9:00 PM</span>
</div>
<div class="row" style="top:666.64px">
<span class="h" style="left:0px;width:109px">RMDN 23</span>
<span style="left:109px;width:111.3px">3/12/2026</span>
<span style="left:220.3px;width:156px;letter-spacing:.3px">THURSDAY</span>
<span class="b" style="left:376.3px;width:114.1px">6:10 AM</span>
<span class="b" style="left:490.4px;width:113.1px">6:30 AM</span>
<span style="left:603.5px;width:113.1px;letter-spacing:-.2px">7:23 AM</span>
<span style="left:716.6px;width:113.4px;letter-spacing:-.2px">1:21 PM</span>
<span style="left:830px;width:113px;letter-spacing:-.2px">1:30 PM</span>
<span style="left:943px;width:113.3px;letter-spacing:-.2px">4:41 PM</span>
<span style="left:1056.3px;width:113.2px;letter-spacing:-.2px">5:15 PM</span>
<span style="left:1169.5px;width:113.2px;letter-spacing:-.2px">7:16 PM</span>
<span class="b" style="left:1282.7px;width:113.1px">7:26 PM</span>
<span style="left:1395.8px;width:113.2px;letter-spacing:-.2px">8:29 PM</span>
<span style="left:1509px;width:113px;letter-spacing:-.2px">9:00 PM</span>
</div>
<div class="row" style="top:695.66px">
<span class="h" style="left:0px;width:109px">RMDN 24</span>
<span style="left:109px;width:111.3px">3/13/2026</span>
<span style="left:220.3px;width:156px;letter-spacing:.3px">FRIDAY</span>
<span class="b" style="left:376.3px;width:114.1px">6:09 AM</span>
<span class="b" style="left:490.4px;width:113.1px">6:29 AM</span>
<span style="left:603.5px;width:113.1px;letter-spacing:-.2px">7:22 AM</span>
<span style="left:716.6px;width:113.4px;letter-spacing:-.2px">1:21 PM</span>
<span style="left:830px;width:113px;letter-spacing:-.2px">1:30 PM</span>
<span style="left:943px;width:113.3px;letter-spacing:-.2px">4:42 PM</span>
<span style="left:1056.3px;width:113.2px;letter-spacing:-.2px">5:15 PM</span>
<span style="left:1169.5px;width:113.2px;letter-spacing:-.2px">7:17 PM</span>
<span class="b" style="left:1282.7px;width:113.1px">7:27 PM</span>
<span style="left:1395.8px;width:113.2px;letter-spacing:-.2px">8:30 PM</span>
<span style="left:1509px;width:113px;letter-spacing:-.2px">9:00 PM</span>
</div>
<div class="row hl" style="top:724.68px">
<span class="h" style="left:0px;width:109px">RMDN 25</span>
<span style="left:109px;width:111.3px">3/14/2026</span>
<span style="left:220.3px;width:156px;letter-spacing:.3px">SATURDAY</span>
<span class="b" style="left:376.3px;width:114.1px">6:07 AM</span>
<span class="b" style="left:490.4px;width:113.1px">6:27 AM</span>
<span style="left:603.5px;width:113.1px;letter-spacing:-.2px">7:20 AM</span>
<span style="left:716.6px;width:113.4px;letter-spacing:-.2px">1:21 PM</span>
<span style="left:830px;width:113px;letter-spacing:-.2px">1:30 PM</span>
<span style="left:943px;width:113.3px;letter-spacing:-.2px">4:43 PM</span>
<span style="left:1056.3px;width:113.2px;letter-spacing:-.2px">5:15 PM</span>
<span style="left:1169.5px;width:113.2px;letter-spacing:-.2px">7:18 PM</span>
<span class="b" style="left:1282.7px;width:113.1px">7:28 PM</span>
<span style="left:1395.8px;width:113.2px;letter-spacing:-.2px">8:31 PM</span>
<span style="left:1509px;width:113px;letter-spacing:-.2px">9:00 PM</span>
</div>
<div class="row hl" style="top:753.7px">
<span class="h" style="left:0px;width:109px">RMDN 26</span>
<span style="left:109px;width:111.3px">3/15/2026</span>
<span style="left:220.3px;width:156px;letter-spacing:.3px">SUNDAY</span>
<span class="b" style="left:376.3px;width:114.1px">6:06 AM</span>
<span class="b" style="left:490.4px;width:113.1px">6:26 AM</span>
<span style="left:603.5px;width:113.1px;letter-spacing:-.2px">7:19 AM</span>
<span style="left:716.6px;width:113.4px;letter-spacing:-.2px">1:21 PM</span>
<span style="left:830px;width:113px;letter-spacing:-.2px">1:30 PM</span>
<span style="left:943px;width:113.3px;letter-spacing:-.2px">4:43 PM</span>
<span style="left:1056.3px;width:113.2px;letter-spacing:-.2px">5:15 PM</span>
<span style="left:1169.5px;width:113.2px;letter-spacing:-.2px">7:19 PM</span>
<span class="b" style="left:1282.7px;width:113.1px">7:29 PM</span>
<span style="left:1395.8px;width:113.2px;letter-spacing:-.2px">8:32 PM</span>
<span style="left:1509px;width:113px;letter-spacing:-.2px">9:00 PM</span>
</div>
<div class="row" style="top:782.72px">
<span class="h" style="left:0px;width:109px">RMDN 27</span>
<span style="left:109px;width:111.3px">3/16/2026</span>
<span style="left:220.3px;width:156px;letter-spacing:.3px">MONDAY</span>
<span class="b" style="left:376.3px;width:114.1px">6:04 AM</span>
<span class="b" style="left:490.4px;width:113.1px">6:24 AM</span>
<span style="left:603.5px;width:113.1px;letter-spacing:-.2px">7:17 AM</span>
<span style="left:716.6px;width:113.4px;letter-spacing:-.2px">1:20 PM</span>
<span style="left:830px;width:113px;letter-spacing:-.2px">1:30 PM</span>
<span style="left:943px;width:113.3px;letter-spacing:-.2px">4:44 PM</span>
<span style="left:1056.3px;width:113.2px;letter-spacing:-.2px">5:15 PM</span>
<span style="left:1169.5px;width:113.2px;letter-spacing:-.2px">7:20 PM</span>
<span class="b" style="left:1282.7px;width:113.1px">7:30 PM</span>
<span style="left:1395.8px;width:113.2px;letter-spacing:-.2px">8:33 PM</span>
<span style="left:1509px;width:113px;letter-spacing:-.2px">9:00 PM</span>
</div>
<div class="row" style="top:811.74px">
<span class="h" style="left:0px;width:109px">RMDN 28</span>
<span style="left:109px;width:111.3px">3/17/2026</span>
<span style="left:220.3px;width:156px;letter-spacing:.3px">TUESDAY</span>
<span class="b" style="left:376.3px;width:114.1px">6:02 AM</span>
<span class="b" style="left:490.4px;width:113.1px">6:22 AM</span>
<span style="left:603.5px;width:113.1px;letter-spacing:-.2px">7:16 AM</span>
<span style="left:716.6px;width:113.4px;letter-spacing:-.2px">1:20 PM</span>
<span style="left:830px;width:113px;letter-spacing:-.2px">1:30 PM</span>
<span style="left:943px;width:113.3px;letter-spacing:-.2px">4:44 PM</span>
<span style="left:1056.3px;width:113.2px;letter-spacing:-.2px">5:15 PM</span>
<span style="left:1169.5px;width:113.2px;letter-spacing:-.2px">7:21 PM</span>
<span class="b" style="left:1282.7px;width:113.1px">7:31 PM</span>
<span style="left:1395.8px;width:113.2px;letter-spacing:-.2px">8:34 PM</span>
<span style="left:1509px;width:113px;letter-spacing:-.2px">9:00 PM</span>
</div>
<div class="row" style="top:840.76px">
<span class="h" style="left:0px;width:109px">RMDN 29</span>
<span style="left:109px;width:111.3px">3/18/2026</span>
<span style="left:220.3px;width:156px;letter-spacing:.3px">WEDNESDAY</span>
<span class="b" style="left:376.3px;width:114.1px">6:01 AM</span>
<span class="b" style="left:490.4px;width:113.1px">6:21 AM</span>
<span style="left:603.5px;width:113.1px;letter-spacing:-.2px">7:14 AM</span>
<span style="left:716.6px;width:113.4px;letter-spacing:-.2px">1:19 PM</span>
<span style="left:830px;width:113px;letter-spacing:-.2px">1:30 PM</span>
<span style="left:943px;width:113.3px;letter-spacing:-.2px">4:45 PM</span>
<span style="left:1056.3px;width:113.2px;letter-spacing:-.2px">5:15 PM</span>
<span style="left:1169.5px;width:113.2px;letter-spacing:-.2px">7:22 PM</span>
<span class="b" style="left:1282.7px;width:113.1px">7:32 PM</span>
<span style="left:1395.8px;width:113.2px;letter-spacing:-.2px">8:35 PM</span>
<span style="left:1509px;width:113px;letter-spacing:-.2px">9:00 PM</span>
</div>
<div class="row" style="top:869.78px">
<span class="h" style="left:0px;width:109px">RMDN 30</span>
<span style="left:109px;width:111.3px">3/19/2026</span>
<span style="left:220.3px;width:156px;letter-spacing:.3px">THURSDAY</span>
<span class="b" style="left:376.3px;width:114.1px">5:59 AM</span>
<span class="b" style="left:490.4px;width:113.1px">6:19 AM</span>
<span style="left:603.5px;width:113.1px;letter-spacing:-.2px">7:12 AM</span>
<span style="left:716.6px;width:113.4px;letter-spacing:-.2px">1:19 PM</span>
<span style="left:830px;width:113px;letter-spacing:-.2px">1:30 PM</span>
<span style="left:943px;width:113.3px;letter-spacing:-.2px">4:45 PM</span>
<span style="left:1056.3px;width:113.2px;letter-spacing:-.2px">5:15 PM</span>
<span style="left:1169.5px;width:113.2px;letter-spacing:-.2px">7:23 PM</span>
<span class="b" style="left:1282.7px;width:113.1px">7:33 PM</span>
<span style="left:1395.8px;width:113.2px;letter-spacing:-.2px">8:36 PM</span>
<span style="left:1509px;width:113px;letter-spacing:-.2px">9:00 PM</span>
</div>
<div class="vl" style="left:108px"></div>
<div class="vl" style="left:219.3px"></div>
<div class="vl" style="left:375.3px"></div>
<div class="vl" style="left:489.4px"></div>
<div class="vl" style="left:602.5px"></div>
<div class="vl" style="left:715.6px"></div>
<div class="vl" style="left:829px"></div>
<div class="vl" style="left:942px"></div>
<div class="vl" style="left:1055.3px"></div>
<div class="vl" style="left:1168.5px"></div>
<div class="vl" style="left:1281.7px"></div>
<div class="vl" style="left:1394.8px"></div>
<div class="vl" style="left:1508px"></div>
<div class="vl" style="left:1620.5px;opacity:.35"></div>
<div class="hl2" style="top:56.22px"></div>
<div class="hl2" style="top:85.24px"></div>
<div class="hl2" style="top:114.26px"></div>
<div class="hl2" style="top:143.28px"></div>
<div class="hl2" style="top:172.3px"></div>
<div class="hl2" style="top:201.32px"></div>
<div class="hl2" style="top:230.34px"></div>
<div class="hl2" style="top:259.36px"></div>
<div class="hl2" style="top:288.38px"></div>
<div class="hl2" style="top:317.4px"></div>
<div class="hl2" style="top:346.42px"></div>
<div class="hl2" style="top:375.44px"></div>
<div class="hl2" style="top:404.46px"></div>
<div class="hl2" style="top:433.48px"></div>
<div class="hl2" style="top:462.5px"></div>
<div class="hl2" style="top:491.52px"></div>
<div class="hl2" style="top:520.54px"></div>
<div class="hl2" style="top:549.56px"></div>
<div class="hl2" style="top:578.58px"></div>
<div class="hl2" style="top:607.6px"></div>
<div class="hl2" style="top:636.62px"></div>
<div class="hl2" style="top:665.64px"></div>
<div class="hl2" style="top:694.66px"></div>
<div class="hl2" style="top:723.68px"></div>
<div class="hl2" style="top:752.7px"></div>
<div class="hl2" style="top:781.72px"></div>
<div class="hl2" style="top:810.74px"></div>
<div class="hl2" style="top:839.76px"></div>
<div class="hl2" style="top:868.78px"></div>
<div class="hl2" style="top:897.8px"></div>
</div>
<div class="side"></div>
<svg class="abs" style="left:1711px;top:0" width="289" height="1294" viewBox="1711 0 289 1294">
<rect x="1748.6" y="107" width="218.8" height="74.6" fill="#00adef"/>
<path d="M1.5 0 C5.85 -7.00 19.50 -6.72 19.50 0 C19.50 6.72 5.85 7.00 1.5 0Z" transform="translate(1777.80 142.00) rotate(-93)" fill="none" stroke="#fff" stroke-width="1.8" stroke-linejoin="round"/>
<path d="M1.5 0 C6.15 -7.00 20.50 -6.72 20.50 0 C20.50 6.72 6.15 7.00 1.5 0Z" transform="translate(1777.80 142.00) rotate(-40)" fill="none" stroke="#fff" stroke-width="1.8" stroke-linejoin="round"/>
<path d="M1.5 0 C5.55 -7.00 18.50 -6.72 18.50 0 C18.50 6.72 5.55 7.00 1.5 0Z" transform="translate(1777.80 142.00) rotate(8)" fill="none" stroke="#fff" stroke-width="1.8" stroke-linejoin="round"/>
<path d="M1.5 0 C5.85 -7.00 19.50 -6.72 19.50 0 C19.50 6.72 5.85 7.00 1.5 0Z" transform="translate(1777.80 142.00) rotate(174)" fill="none" stroke="#fff" stroke-width="1.8" stroke-linejoin="round"/>
<path d="M1.5 0 C5.70 -7.00 19.00 -6.72 19.00 0 C19.00 6.72 5.70 7.00 1.5 0Z" transform="translate(1777.80 142.00) rotate(-148)" fill="none" stroke="#fff" stroke-width="1.8" stroke-linejoin="round"/>
<circle cx="1777.8" cy="142.0" r="2.5" fill="#00adef" stroke="#fff" stroke-width="1.5"/>
<path d="M1777.3 144.5 C1777 152 1776.3 158 1773.6 162.4" fill="none" stroke="#fff" stroke-width="2" stroke-linecap="round"/>
<circle cx="1802.5" cy="211.7" r="10.8" fill="#fff"/>
<circle cx="1802.5" cy="239.7" r="10.8" fill="#fff"/>
<circle cx="1788.5" cy="225.7" r="10.8" fill="#fff"/>
<circle cx="1816.5" cy="225.7" r="10.8" fill="#fff"/>
<rect x="1790.5" y="213.7" width="24" height="24" fill="#fff"/>
<circle cx="1802.5" cy="214.2" r="7.3" fill="#0a2d4a"/>
<circle cx="1802.5" cy="237.2" r="7.3" fill="#0a2d4a"/>
<circle cx="1791.0" cy="225.7" r="7.3" fill="#0a2d4a"/>
<circle cx="1814.0" cy="225.7" r="7.3" fill="#0a2d4a"/>
<rect x="1794.0" y="217.2" width="17" height="17" fill="#0a2d4a" transform="rotate(45 1802.5 225.7)"/>
<circle cx="1802.5" cy="208.7" r="4" fill="#fff"/>
<circle cx="1802.5" cy="242.7" r="4" fill="#fff"/>
<circle cx="1785.5" cy="225.7" r="4" fill="#fff"/>
<circle cx="1819.5" cy="225.7" r="4" fill="#fff"/>
<rect x="1786.2" y="209.9" width="4.6" height="4.6" fill="#fff"/>
<rect x="1814.2" y="209.9" width="4.6" height="4.6" fill="#fff"/>
<rect x="1786.2" y="236.9" width="4.6" height="4.6" fill="#fff"/>
<rect x="1814.2" y="236.9" width="4.6" height="4.6" fill="#fff"/>
<path d="M1799.1 222.3 q3.4 1.2 6.8 0 q-1.2 3.4 0 6.8 q-3.4 -1.2 -6.8 0 q1.2 -3.4 0 -6.8z" fill="#fff"/>
<path d="M1799.5 275.8 C1806 282 1812 293 1808.5 304.5 C1803 304 1795 300 1796.8 290 C1797.2 285 1798 280 1799.5 275.8Z" fill="#fff"/>
<path d="M1776.8 294.8 C1784 292.5 1792 293.5 1794.5 297 C1797 300 1798 302 1798.6 304 C1791 304.5 1783 301 1776.8 294.8Z" fill="#fff"/>
<path d="M1778 310.5 C1786 306 1798 305 1806.5 311.5 L1806.5 318 C1800 321.5 1790 321 1778 310.5Z" fill="#fff"/>
<g fill="none" stroke="#fff" stroke-width="1.5" stroke-linecap="round"><path d="M1784.3 372.3 C1797 372 1809.5 380 1809.8 392 C1809.8 396 1808 399.5 1805 402.5"/><path d="M1783 378.8 Q1795 381 1806.8 378.6"/><path d="M1778.8 385.2 Q1795 388 1810.6 385"/><path d="M1776.2 391.3 Q1795 394.5 1812.8 391"/><path d="M1788 373.5 C1791.5 380 1792.3 390 1791.3 398.5"/><path d="M1770.5 408.5 Q1786 419 1790.2 434.3"/><path d="M1808.5 400.5 Q1793.5 416 1790.4 434.3"/></g>
<circle cx="1785.8" cy="402" r="5.3" fill="#fff"/>
<path d="M1762.1 402.4 Q1784 413 1803 402.5 Q1814 395.5 1822.6 389.8 Q1813 399.5 1804 406.5 Q1784 418.5 1762.1 402.4Z" fill="#fff"/>
<circle cx="1793.5" cy="489.6" r="25.8" fill="#0f57a9"/>
<circle cx="1791.2" cy="486.7" r="24.2" fill="#fff"/>
<g fill="none" stroke="#dfe3f3" stroke-width="0.9"><ellipse cx="1791.2" cy="486.7" rx="11" ry="24"/><path d="M1767 486.7 H1815.4 M1770.5 474.5 H1812 M1770.5 499 H1812 M1791.2 462.5 V511"/></g>
<path d="M1774.9 475.8 H1791.7 V481.5 L1788.4 497 L1790.4 501.2 H1791.7 V505.3 H1787 L1782.6 497 L1785.6 480.2 H1777.6 Z" fill="#1d5cb1"/>
<path d="M1791.6 475.8 H1810.2 L1808.4 480.2 H1796.6 V485.4 H1806.4 L1804.9 489.5 H1796.6 V505.4 H1791.6 Z" fill="#d7172f"/>
<circle cx="1814.3" cy="599.1" r="20.3" fill="none" stroke="#fff" stroke-width="10.2"/>
<rect x="1788.9" y="599" width="10.2" height="29.7" fill="#fff"/>
<path d="M1834.1 551 C1838.5 560 1840.5 570 1836.8 581 C1831 572 1830.5 560 1834.1 551Z" fill="#fff"/>
<path d="M1862.7 550.4 C1861 565 1852 577 1839.3 582 C1841 568 1850 556 1862.7 550.4Z" fill="#fff"/>
<path d="M1859.2 581.3 C1854 586 1846 586.5 1840.7 584.3 C1846 579.8 1853 579.3 1859.2 581.3Z" fill="#fff"/>
<path d="M1922.3 613 V619.3 Q1922.3 623.7 1927 623.6 Q1931.8 623.5 1933.2 618.6" fill="none" stroke="#fff" stroke-width="2.3"/>
<rect x="1930.3" y="611.6" width="1.4" height="1" fill="#fff"/><rect x="1932.4" y="611.6" width="2.2" height="1" fill="#fff"/>
<circle cx="1819.05" cy="670" r="7.1" fill="#fff"/>
<path d="M1792.95 675.5 H1807.8 L1819.05 687.8 L1830.3 675.5 H1845.15 Q1833 696 1819.05 696 Q1805 696 1792.95 675.5Z" fill="#fff"/>
<path d="M1784.40 679 Q1784.40 675.4 1788.00 675.4 Q1791.60 675.4 1791.60 679 V690 Q1791.60 692.5 1794.00 695 L1809.50 709 Q1813.00 712 1811.80 716 L1807.00 726 L1786.00 703.5 Q1784.40 701.5 1784.40 698.5 Z" fill="#fff"/><path d="M1791.40 695.8 L1797.20 705.2" stroke="#0a2d4a" stroke-width="2.8" stroke-linecap="round" fill="none"/><path d="M1791.90 690 Q1790.00 694 1788.30 694" stroke="#0a2d4a" stroke-width="1.6" fill="none"/>
<path d="M1853.70 679 Q1853.70 675.4 1850.10 675.4 Q1846.50 675.4 1846.50 679 V690 Q1846.50 692.5 1844.10 695 L1828.60 709 Q1825.10 712 1826.30 716 L1831.10 726 L1852.10 703.5 Q1853.70 701.5 1853.70 698.5 Z" fill="#fff"/><path d="M1846.70 695.8 L1840.90 705.2" stroke="#0a2d4a" stroke-width="2.8" stroke-linecap="round" fill="none"/><path d="M1846.20 690 Q1848.10 694 1849.80 694" stroke="#0a2d4a" stroke-width="1.6" fill="none"/>
<polygon points="1837.60,768.20 1840.19,775.84 1848.25,775.94 1841.78,780.76 1844.18,788.46 1837.60,783.80 1831.02,788.46 1833.42,780.76 1826.95,775.94 1835.01,775.84" fill="#fff"/>
<path d="M1797.9 773.9 H1813.2 V818.4 H1826.75 V832.3 H1797.9Z" fill="#fff"/>
<rect x="1830.1" y="789.9" width="14.7" height="42.4" fill="#fff"/>
<path d="M1853.8 832.3 V803.7 H1848.8 V792.1 H1853.8 V786 C1853.8 776 1860 771.6 1868 771.6 C1871 771.6 1874 772 1875.8 772.6 V782.5 C1874.5 782 1873 781.8 1871.5 781.8 C1868.8 781.8 1867.7 783.5 1867.7 786.5 V792.1 H1873.9 V803.7 H1867.7 V832.3Z" fill="#fff"/>
<path d="M1893.8 790.9 C1904.5 790.9 1910.6 799.5 1910.6 812 V815.6 H1891.3 C1891.3 820.5 1892.5 823.3 1895.3 823.3 C1897.6 823.3 1898.8 822 1899.4 820 L1909.6 822.6 C1907.8 829.5 1902.5 833.4 1894.5 833.4 C1883.5 833.4 1877 825.5 1877 812.2 C1877 799.5 1883.2 790.9 1893.8 790.9Z M1891.3 808.3 H1900.2 C1900.2 803.5 1898.6 801.4 1895.7 801.4 C1892.8 801.4 1891.3 803.6 1891.3 808.3Z" fill="#fff" fill-rule="evenodd"/>
<path d="M1799.8 965.7 V892 Q1799.8 887.2 1804.65 887.2 Q1809.5 887.2 1809.5 892 V965.7Z" fill="#fff"/>
<path d="M1796.4 936.5 L1799.8 935.7 H1809.5 L1813.5 936.5 L1809.5 937.3 H1799.8Z" fill="#fff"/>
<path d="M1806.34 877.03 A3.7 3.7 0 1 1 1802.86 877.03" fill="none" stroke="#fff" stroke-width="1.3"/>
<path d="M1846.94 928.73 A3.7 3.7 0 1 1 1843.46 928.73" fill="none" stroke="#fff" stroke-width="1.3"/>
<path d="M1813.3 957.7 V951 C1813.3 943 1830 938.6 1845.5 938.6 C1862 938.6 1879.5 943 1879.5 951 V965.7 H1871.3 V953 C1871.3 946.5 1858 942.3 1846 942.3 C1834 942.3 1821.5 946.5 1821.5 952.4 H1833.6 V960.6 H1826 V957.7 Z" fill="#fff"/>
<rect x="1813.3" y="960.6" width="20.3" height="5.1" fill="#fff"/>
<path d="M1846.7 951.9 H1854.9 L1871.3 961 V965.7 H1862 L1854.9 960.5 V965.7 H1846.7Z" fill="#fff"/>
<path d="M1883.8 965.7 L1884.6 956 Q1885.2 951.9 1899.7 951.9 Q1914.3 951.9 1914.9 956 L1915.7 965.7 H1907.6 L1907.2 962 H1892.3 L1891.9 965.7Z M1892.9 959.6 H1906.6 Q1906 956.4 1899.7 956.4 Q1893.5 956.4 1892.9 959.6Z" fill="#fff" fill-rule="evenodd"/>
<rect x="1797.97" y="1011.49" width="8.11" height="8.42" fill="#ffcb05"/>
<rect x="1797.97" y="1024.00" width="8.11" height="8.54" fill="#ffcb05"/>
<path d="M1797.97 1079.20 V1045.04 Q1797.97 1041.38 1801.63 1041.38 H1806.08 Q1806.08 1041.38 1806.08 1041.38 V1079.20 Z" fill="#fff"/>
<rect x="1797.97" y="1070.97" width="20.92" height="8.24" fill="#fff"/>
<path d="M1810.17 1079.20 V1015.15 Q1810.17 1011.49 1813.83 1011.49 H1818.89 Q1818.89 1011.49 1818.89 1011.49 V1079.20 Z" fill="#fff"/>
<path d="M1822.98 1079.20 V1015.15 Q1822.98 1011.49 1826.64 1011.49 H1831.21 Q1831.21 1011.49 1831.21 1011.49 V1079.20 Z" fill="#fff"/>
<rect x="1822.98" y="1070.97" width="21.05" height="8.24" fill="#fff"/>
<path d="M1835.48 1079.20 V1023.39 Q1835.48 1019.73 1839.14 1019.73 H1844.02 Q1844.02 1019.73 1844.02 1019.73 V1079.20 Z" fill="#fff"/>
<path d="M1835.48 1028.27 V1023.39 Q1835.48 1019.73 1839.14 1019.73 H1852.87 Q1856.53 1019.73 1856.53 1023.39 V1028.27 Z" fill="#fff"/>
<rect x="1847.99" y="1024.30" width="8.54" height="25.62" fill="#fff"/>
<rect x="1835.48" y="1041.38" width="33.55" height="8.54" fill="#fff"/>
<path d="M1860.80 1049.92 V1015.15 Q1860.80 1011.49 1864.46 1011.49 H1869.03 Q1869.03 1011.49 1869.03 1011.49 V1049.92 Z" fill="#fff"/>
<path d="M1873.00 1049.92 V1015.15 Q1873.00 1011.49 1876.66 1011.49 H1881.54 Q1881.54 1011.49 1881.54 1011.49 V1049.92 Z" fill="#fff"/>
<path d="M1886.11 1019.91 V1015.15 Q1886.11 1011.49 1889.77 1011.49 H1898.01 Q1898.01 1011.49 1898.01 1011.49 V1019.91 Z" fill="#fff"/>
<rect x="1889.77" y="1011.49" width="8.24" height="51.55" fill="#fff"/>
<path d="M1886.11 1037.11 V1031.93 Q1886.11 1028.27 1889.77 1028.27 H1898.01 Q1898.01 1028.27 1898.01 1028.27 V1037.11 Z" fill="#fff"/>
<path d="M1886.11 1063.04 V1057.85 Q1886.11 1054.19 1889.77 1054.19 H1910.82 Q1910.82 1054.19 1910.82 1054.19 V1063.04 Z" fill="#fff"/>
<rect x="1902.28" y="1054.19" width="8.54" height="25.01" fill="#fff"/>
<rect x="1847.99" y="1070.97" width="62.83" height="8.24" fill="#fff"/>
<path d="M1847.99 1079.20 V1057.85 Q1847.99 1054.19 1851.65 1054.19 H1856.53 Q1856.53 1054.19 1856.53 1054.19 V1079.20 Z" fill="#fff"/>
<rect x="1860.80" y="1054.19" width="8.24" height="8.85" fill="#fff"/>
<rect x="1873.00" y="1054.19" width="8.54" height="8.85" fill="#fff"/>
<rect x="1902.28" y="1015.76" width="8.54" height="8.24" fill="#fff"/>
<rect x="1902.28" y="1028.27" width="8.54" height="8.54" fill="#fff"/>
<rect x="1902.28" y="1041.38" width="8.54" height="8.54" fill="#fff"/>
<circle cx="1914" cy="1099.6" r="2.1" fill="none" stroke="#fff" stroke-width="0.6"/>
<path d="M1779.4 1133 C1784 1139 1793.7 1146 1793.7 1152.6 A14.3 13.8 0 0 1 1765.1 1152.6 C1765.1 1146 1775 1139 1779.4 1133Z" fill="#fff"/>
<path d="M1767 1141 C1756 1147.5 1750 1157.5 1754 1165.5 C1760 1177.5 1787 1179.5 1809.6 1166.2 C1790 1173 1771 1171.5 1764.3 1162.5 C1760 1156 1761.5 1147.5 1767 1141Z" fill="#fff"/>
<circle cx="1962.3" cy="1145.2" r="1.7" fill="none" stroke="#fff" stroke-width="0.5"/>
<circle cx="1773.0" cy="1237.4" r="22.5" fill="#e9eff3"/>
<circle cx="1773.0" cy="1237.4" r="21" fill="#22a7e0"/>
<circle cx="1773.0" cy="1237.4" r="19.6" fill="none" stroke="#bfe4f5" stroke-width="0.5"/>
<circle cx="1773.0" cy="1237.4" r="9.7" fill="#fff"/>
<circle cx="1773.0" cy="1237.4" r="10.6" fill="none" stroke="#bfe4f5" stroke-width="0.5"/>
<path d="M1767.0 1234.9 q1.5 -7 3 -1 q1.5 -9 3 -1 q1.5 -9 3 0 q1.5 -6 3 1 v4 h-12z M1767.0 1239.9 h12 q-1 7 -3 3 q-1.5 6 -3 0 q-1.500 6 -3 0 q-2 4 -3 -3z" fill="#f4a731"/>
<rect x="1766.3" y="1235.0" width="13.4" height="4.8" fill="#22a7e0"/>
<g font-family="Liberation Sans" font-size="6.2" fill="#fff"><text x="1773.00" y="1223.80" transform="rotate(-54.0 1773.00 1237.40)" text-anchor="middle">M</text><text x="1773.00" y="1223.80" transform="rotate(-36.0 1773.00 1237.40)" text-anchor="middle">U</text><text x="1773.00" y="1223.80" transform="rotate(-18.0 1773.00 1237.40)" text-anchor="middle">S</text><text x="1773.00" y="1223.80" transform="rotate(0.0 1773.00 1237.40)" text-anchor="middle">L</text><text x="1773.00" y="1223.80" transform="rotate(18.0 1773.00 1237.40)" text-anchor="middle">I</text><text x="1773.00" y="1223.80" transform="rotate(36.0 1773.00 1237.40)" text-anchor="middle">M</text><text x="1773.00" y="1223.80" transform="rotate(54.0 1773.00 1237.40)" text-anchor="middle">S</text></g>
<g font-family="Liberation Sans" font-size="6.2" fill="#fff"><text x="1773.00" y="1255.60" transform="rotate(54.2 1773.00 1237.40)" text-anchor="middle">H</text><text x="1773.00" y="1255.60" transform="rotate(38.8 1773.00 1237.40)" text-anchor="middle">U</text><text x="1773.00" y="1255.60" transform="rotate(23.2 1773.00 1237.40)" text-anchor="middle">M</text><text x="1773.00" y="1255.60" transform="rotate(7.8 1773.00 1237.40)" text-anchor="middle">A</text><text x="1773.00" y="1255.60" transform="rotate(-7.8 1773.00 1237.40)" text-anchor="middle">N</text><text x="1773.00" y="1255.60" transform="rotate(-23.2 1773.00 1237.40)" text-anchor="middle">I</text><text x="1773.00" y="1255.60" transform="rotate(-38.8 1773.00 1237.40)" text-anchor="middle">T</text><text x="1773.00" y="1255.60" transform="rotate(-54.2 1773.00 1237.40)" text-anchor="middle">Y</text></g>
<text x="1773.0" y="1238.7" font-family="Liberation Sans" font-weight="bold" font-size="3.6" fill="#fff" text-anchor="middle">FOR</text>
</svg>
<div class="abs" style="left:1749.40px;top:33.14px;font-size:27.6px;line-height:27.6px;letter-spacing:0.686px;font-weight:bold;color:#fff;-webkit-text-stroke:0.8px #fff;">THANK YOU TO</div>
<div class="abs" style="left:1743.00px;top:63.94px;font-size:27.6px;line-height:27.6px;letter-spacing:0.365px;font-weight:bold;color:#fff;-webkit-text-stroke:0.8px #fff;">OUR SPONSORS</div>
<div class="abs" style="left:1798.74px;top:136.08px;font-size:24px;line-height:24px;transform:scaleX(0.8786);transform-origin:0 0;color:#fff;-webkit-text-stroke:0.5px #fff;">Orphans in Need</div>
<div class="abs" style="left:1921.10px;top:158.46px;font-size:18.6px;line-height:18.6px;transform:scaleX(0.9392);transform-origin:0 0;color:#fff;-webkit-text-stroke:0.5px #fff;">USA</div>
<div class="abs" style="left:1839.00px;top:198.87px;font-size:41.5px;line-height:41.5px;letter-spacing:-1.990px;font-weight:bold;color:#fff;">CAIR</div>
<div class="abs" style="left:1779.00px;top:254.89px;font-size:5.8px;line-height:5.8px;transform:scaleX(0.9516);transform-origin:0 0;font-weight:bold;color:#fff;">Council on American-Islamic Relations, Minnesota Chapter</div>
<div class="abs" style="left:1806.91px;top:295.74px;font-size:49.5px;line-height:49.5px;transform:scaleX(0.9575);transform-origin:0 0;font-weight:bold;color:#fff;-webkit-text-stroke:1.9px #fff;font-family:'Liberation Serif',serif;">BDesh</div>
<div class="abs" style="left:1804.80px;top:339.26px;font-size:14.1px;line-height:14.1px;letter-spacing:0.425px;color:#fff;">FOUNDATION.ORG</div>
<div class="abs" style="left:1831.04px;top:389.67px;font-size:30.4px;line-height:30.4px;transform:scaleX(1.3782);transform-origin:0 0;font-weight:bold;color:#fff;">Reach</div>
<div class="abs" style="left:1833.80px;top:422.67px;font-size:10.9px;line-height:10.9px;transform:scaleX(1.4726);transform-origin:0 0;font-weight:bold;color:#fff;">Education Fund</div>
<div class="abs" style="left:1828.35px;top:462.29px;font-size:35.1px;line-height:35.1px;letter-spacing:2.097px;color:#fff;-webkit-text-stroke:0.7px #fff;">ZAKAT</div>
<div class="abs" style="left:1829.17px;top:496.45px;font-size:15.3px;line-height:15.3px;letter-spacing:1.779px;color:#fff;-webkit-text-stroke:0.35px #fff;">FOUNDATION</div>
<div class="abs" style="left:1851.60px;top:515.37px;font-size:11.5px;line-height:11.5px;letter-spacing:0.004px;font-style:italic;color:#fff;">of</div>
<div class="abs" style="left:1867.42px;top:515.70px;font-size:11.1px;line-height:11.1px;letter-spacing:0.984px;color:#fff;-webkit-text-stroke:0.25px #fff;">AMERICA</div>
<div class="abs" style="left:1836.93px;top:606.52px;font-size:21.6px;line-height:21.6px;transform:scaleX(1.0958);transform-origin:0 0;color:#fff;-webkit-text-stroke:0.6px #fff;">erennıa</div>
<div class="abs" style="left:1814.10px;top:628.22px;font-size:12.4px;line-height:12.4px;letter-spacing:4.104px;color:#fff;font-family:'Liberation Serif',serif;">OUTDOORS</div>
<div class="abs" style="left:1859.34px;top:673.01px;font-size:19.6px;line-height:19.6px;transform:scaleX(0.9634);transform-origin:0 0;font-weight:bold;color:#fff;">Mercy</div>
<div class="abs" style="left:1860.30px;top:691.01px;font-size:19.6px;line-height:19.6px;transform:scaleX(0.9618);transform-origin:0 0;font-weight:bold;color:#fff;">Without</div>
<div class="abs" style="left:1859.32px;top:709.01px;font-size:19.6px;line-height:19.6px;transform:scaleX(0.9771);transform-origin:0 0;font-weight:bold;color:#fff;">Limits</div>
<div class="abs" style="left:1797.90px;top:837.54px;font-size:10.7px;line-height:10.7px;transform:scaleX(0.5380);transform-origin:0 0;font-weight:bold;color:#fff;">WHERE THERE IS LIFE...THERE IS HOPE</div>
<div class="abs" style="left:1800.60px;top:969.63px;font-size:9.3px;line-height:9.3px;transform:scaleX(0.7787);transform-origin:0 0;font-weight:bold;color:#fff;">Islamic Society of North America</div>
<div class="abs" style="left:1797.35px;top:1080.17px;font-size:26.5px;line-height:26.5px;transform:scaleX(0.8715);transform-origin:0 0;font-weight:bold;color:#fff;-webkit-text-stroke:0.5px #fff;">baitulmaal</div>
<div class="abs" style="left:1799.05px;top:1142.09px;font-size:22.1px;line-height:22.1px;transform:scaleX(0.9536);transform-origin:0 0;font-weight:bold;color:#fff;">Muslim Aid USA</div>
<div class="abs" style="left:1852.20px;top:1164.02px;font-size:12.5px;line-height:12.5px;letter-spacing:0.192px;font-weight:bold;color:#fff;">Serving Humanity</div>
<div class="abs" style="left:1802.52px;top:1220.27px;font-size:22.6px;line-height:22.6px;transform:scaleX(0.9646);transform-origin:0 0;color:#fff;-webkit-text-stroke:0.6px #fff;">HELPING HAND</div>
<div class="abs" style="left:1803.20px;top:1243.49px;font-size:11px;line-height:11px;transform:scaleX(0.9080);transform-origin:0 0;color:#fff;">FOR RELIEF AND DEVELOPMENT</div>

</div>
</body></html>
